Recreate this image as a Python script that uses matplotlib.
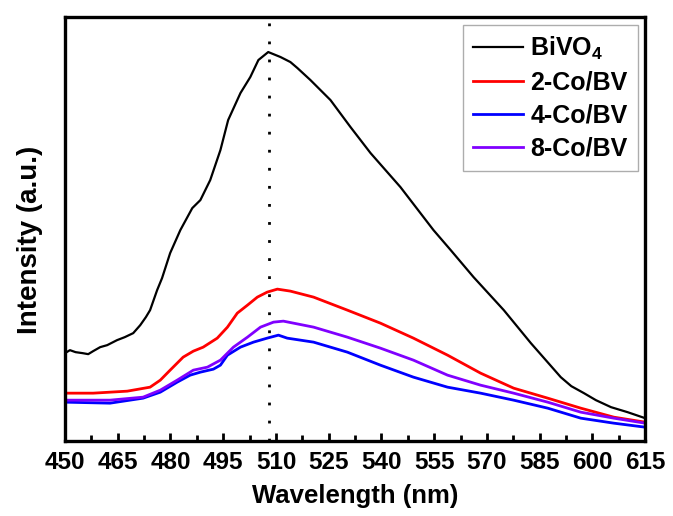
import matplotlib.pyplot as plt
import numpy as np

plt.rcParams['font.family'] = ['Liberation Sans', 'DejaVu Sans']
plt.rcParams['font.weight'] = 'bold'
plt.rcParams['axes.labelweight'] = 'bold'
plt.rcParams['mathtext.fontset'] = 'custom'
plt.rcParams['mathtext.bf'] = 'Liberation Sans:bold'
plt.rcParams['mathtext.rm'] = 'Liberation Sans:bold'
plt.rcParams['mathtext.default'] = 'bf'

# PL spectra (arbitrary units)
wl_bivo4 = [450, 451.4, 453, 455, 456.6, 458, 460, 462, 464.8, 467, 469.4, 471.4, 473, 474.2,
            476.2, 477.6, 479.9, 482.8, 484.5, 486.2, 488.5, 491.3, 494.2, 496.4, 499.9,
            502.7, 505, 507.8, 511.3, 514.1, 516.1, 519.8, 525.5, 531.2, 536.9, 545.4,
            554.8, 559.7, 566.2, 574.8, 582.5, 587, 591, 594, 597.6, 601, 605.3, 610, 615]
int_bivo4 = [88, 91, 89, 88, 87, 90, 94, 96, 101, 104, 108, 116, 124, 131,
             151, 163, 188, 211, 222, 233, 241, 261, 291, 321, 348,
             364, 381, 389, 384, 379, 373, 361, 341, 314, 288, 254,
             211, 191, 164, 131, 98, 80, 64, 55, 48, 41, 34, 29, 23]

wl_2co = [450, 458, 467.7, 474.2, 477.1, 479.9, 483.6, 486.5, 489.3, 493.3, 496.2, 499,
          501.9, 504.7, 507.5, 510.4, 514.1, 520.7, 530.3, 539.7, 549.1, 558.8, 568.2,
          577.6, 587.3, 596.7, 606.1, 615]
int_2co = [48, 48, 50, 54, 61, 71, 84, 90, 94, 103, 114, 128,
           136, 144, 149, 152, 150, 144, 131, 118, 103, 86, 68,
           53, 43, 33, 24, 19]

wl_4co = [450, 462.8, 472.2, 477.1, 481.9, 485.6, 488.5, 492.2, 494.2, 496.2, 499.9, 503.6,
          507.5, 510.7, 513.2, 520.7, 530.3, 539.7, 549.1, 558.8, 568.2, 577.6, 587.3,
          596.7, 606.1, 615]
int_4co = [39, 38, 43, 49, 59, 66, 69, 72, 76, 86, 94, 99,
           103, 106, 103, 99, 89, 76, 64, 54, 48, 41, 33,
           23, 18, 14]

wl_8co = [450, 462.8, 472.2, 477.1, 481.9, 486.5, 490.5, 494.2, 497.9, 501.9, 505.6, 509.3,
          512.1, 520.7, 530.3, 539.7, 549.1, 558.8, 568.2, 577.6, 587.3, 596.7, 606.1, 615]
int_8co = [41, 41, 44, 51, 61, 71, 74, 81, 94, 104, 114, 119,
           120, 114, 104, 93, 81, 66, 56, 48, 39, 29, 23, 18]

peak_wl = 508
xticks = np.arange(450, 616, 15)

fig = plt.figure(figsize=(6.73, 5.16), dpi=100)
ax = fig.add_axes([0.0966, 0.145, 0.862, 0.822])

ax.plot(wl_bivo4, int_bivo4, color='black', lw=1.6, label='BiVO$_4$')
ax.plot(wl_2co, int_2co, color='#ff0000', lw=2.0, label='2-Co/BV')
ax.plot(wl_4co, int_4co, color='#0000ff', lw=2.0, label='4-Co/BV')
ax.plot(wl_8co, int_8co, color='#8000ff', lw=2.0, label='8-Co/BV')
ax.axvline(peak_wl, color='black', lw=2, linestyle=(0, (1, 5.5)))

ax.set_xlim(450, 615)
ax.set_ylim(0, 424)
ax.set_xticks(xticks)
ax.set_xticks(xticks[:-1] + 7.5, minor=True)
ax.set_yticks([])
ax.tick_params(axis='x', which='major', direction='in', length=6, width=2, labelsize=17.5, pad=7)
ax.tick_params(axis='x', which='minor', direction='in', length=4, width=2)
for s in ax.spines.values():
    s.set_linewidth(2.4)

ax.set_xlabel('Wavelength (nm)', fontsize=18.5, labelpad=7)
ax.set_ylabel('Intensity (a.u.)', fontsize=20)
ax.yaxis.set_label_coords(-0.038, 0.474)

leg = ax.legend(loc='upper right', fontsize=18, handlelength=2.0, fancybox=False,
                edgecolor='#999999', borderaxespad=0.3, labelspacing=0.36,
                handletextpad=0.3, borderpad=0.4)
leg.get_frame().set_linewidth(1.0)

plt.savefig('out.png', dpi=100)
